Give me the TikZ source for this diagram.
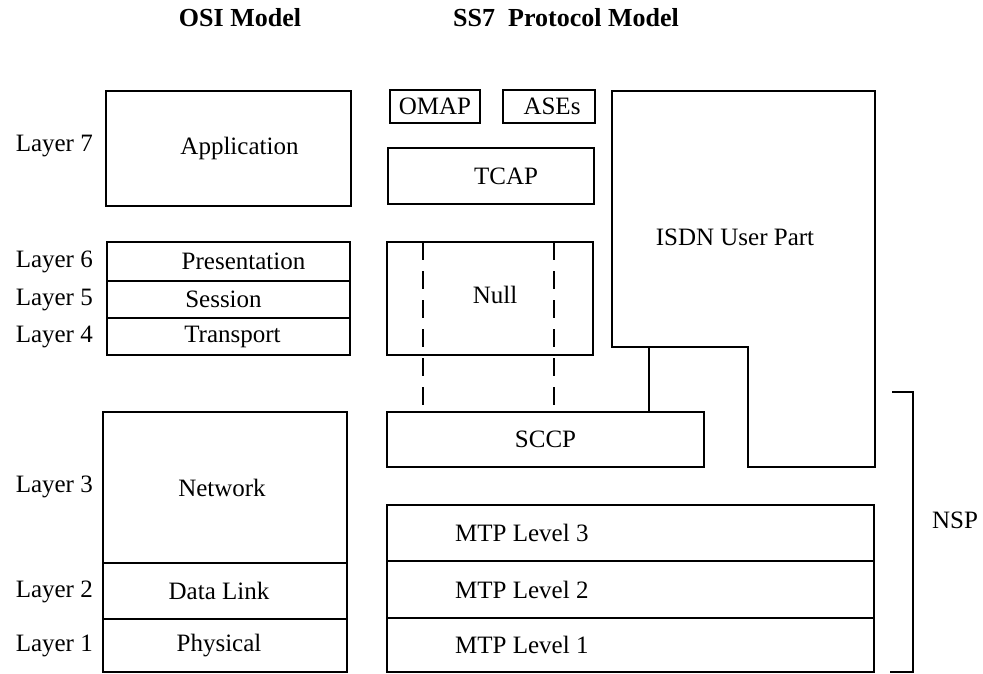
\documentclass[tikz,border=0pt]{standalone}
\usepackage{fontspec}
\setmainfont{Liberation Serif}
\begin{document}
\begin{tikzpicture}[x=1pt,y=-1pt,
  box/.style={draw, line width=1.7pt, inner sep=0pt, font=\fontsize{25}{29}\selectfont},
  lbl/.style={inner sep=0pt, font=\fontsize{25}{29}\selectfont},
  ttl/.style={inner sep=0pt, font=\fontsize{26}{30}\selectfont\bfseries},
  conn/.style={line width=1.7pt},
  dconn/.style={line width=1.7pt, dash pattern=on 18pt off 11pt}]
\useasboundingbox (0,0) rectangle (983,674);
% titles
\node[ttl] (osit) at (240,18) {OSI Model};
\node[ttl] (ss7t) at (566,18) {SS7\ \ Protocol Model};
% OSI stack
\node[box, minimum width=245pt, minimum height=115pt] (app) at (228.5,148.5) {\hspace*{22pt}Application};
\node[box, minimum width=243pt, minimum height=39pt] (pres) at (228.5,261.5) {\hspace*{30pt}Presentation};
\node[box, minimum width=243pt, minimum height=37pt] (sess) at (228.5,299.5) {\hspace*{-10pt}Session};
\node[box, minimum width=243pt, minimum height=37pt] (trans) at (228.5,336.5) {\hspace*{8pt}Transport};
\node[box, minimum width=244pt, minimum height=151pt] (net) at (225,487.5) {\hspace*{-6pt}Network};
\node[box, minimum width=244pt, minimum height=56pt] (dl) at (225,591) {\hspace*{-12pt}Data Link};
\node[box, minimum width=244pt, minimum height=53pt] (phys) at (225,645.5) {\hspace*{-12pt}Physical};
% layer labels
\node[lbl, anchor=east] (l7) at (93,146) {Layer 7};
\node[lbl, anchor=east] (l6) at (93,262) {Layer 6};
\node[lbl, anchor=east] (l5) at (93,300) {Layer 5};
\node[lbl, anchor=east] (l4) at (93,337) {Layer 4};
\node[lbl, anchor=east] (l3) at (93,487) {Layer 3};
\node[lbl, anchor=east] (l2) at (93,592) {Layer 2};
\node[lbl, anchor=east] (l1) at (93,646) {Layer 1};
% SS7 stack
\node[box, minimum width=90pt, minimum height=33pt] (omap) at (435,106.5) {OMAP};
\node[box, minimum width=92pt, minimum height=33pt] (ases) at (549,106.5) {\hspace*{6pt}ASEs};
\node[box, minimum width=206pt, minimum height=56pt] (tcap) at (491,176) {\hspace*{30pt}TCAP};
\node[box, minimum width=206pt, minimum height=113pt] (null) at (490,298.5) {\raisebox{8pt}{\hspace*{10pt}Null}};
\node[box, minimum width=317pt, minimum height=55pt] (sccp) at (545.5,439.5) {SCCP};
\node[box, minimum width=487pt, minimum height=56pt] (mtp3) at (630.5,533) {};
\node[box, minimum width=487pt, minimum height=57pt] (mtp2) at (630.5,589.5) {};
\node[box, minimum width=487pt, minimum height=54pt] (mtp1) at (630.5,645) {};
\node[lbl, anchor=west] (mtp3t) at (455,533) {MTP Level 3};
\node[lbl, anchor=west] (mtp2t) at (455,589.5) {MTP Level 2};
\node[lbl, anchor=west] (mtp1t) at (455,645) {MTP Level 1};
% ISDN user part
\coordinate (i1) at (612,91);
\coordinate (i2) at (875,91);
\coordinate (i3) at (875,467);
\coordinate (i4) at (748,467);
\coordinate (i5) at (748,347);
\coordinate (i6) at (612,347);
\draw[conn] (i1) -- (i2) -- (i3) -- (i4) -- (i5) -- (i6) -- cycle;
\node[lbl] (isdn) at (735,237) {ISDN User Part};
% connectors
\coordinate (d1) at (423,242);
\coordinate (d2) at (554,242);
\draw[dconn] (d1) -- (d1 |- sccp.north);
\draw[dconn] (d2) -- (d2 |- sccp.north);
\coordinate (istep) at (649,347);
\draw[conn] (istep) -- (istep |- sccp.north);
% NSP bracket
\coordinate (nt) at (892,392);
\coordinate (nb) at (890,672);
\draw[conn] (nt) -- (913,392) |- (nb);
\node[lbl] (nsp) at (955,520) {NSP};
\end{tikzpicture}
\end{document}
